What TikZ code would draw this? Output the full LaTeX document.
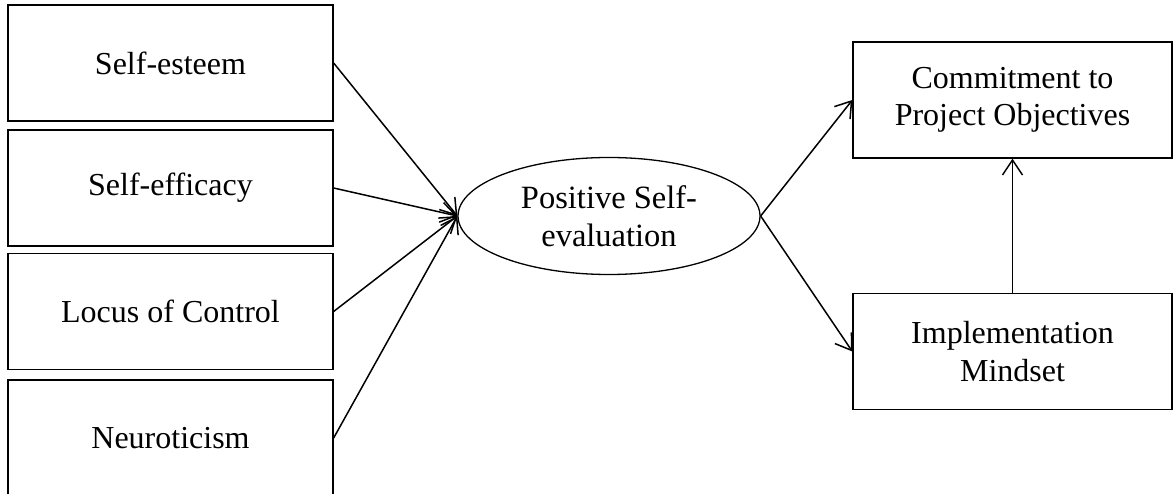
\documentclass[tikz,border=0pt]{standalone}
\usepackage{fontspec}
\setmainfont{Liberation Serif}
\usetikzlibrary{arrows.meta,shapes.geometric}
\begin{document}
\begin{tikzpicture}[x=1pt,y=-1pt,
    factor/.style={draw, line width=1.3pt, minimum width=325pt, minimum height=116pt,
      inner sep=0pt, align=center, font=\fontsize{32}{37.5}\selectfont},
    outcome/.style={factor, minimum width=319pt},
    core/.style={draw, ellipse, line width=1.3pt, minimum width=302pt, minimum height=117pt,
      inner sep=0pt, align=center, font=\fontsize{32.5}{37.5}\selectfont},
    link/.style={line width=1.5pt, -{Straight Barb[length=15pt,width=20pt]}}]
        \useasboundingbox (0,0) rectangle (1173,494);
        %%Traits
        \node[factor] (esteem) at (170.5,63) {Self-esteem};
        \node[factor] (efficacy) at (170.5,188) {Self-efficacy};
        \node[factor] (locus) at (170.5,311.5) {Locus of Control};
        \node[factor] (neuro) at (170.5,438) {Neuroticism};
        %%Core evaluation
        \node[core] (pse) at (609,216) {Positive Self-\\evaluation};
        %%Outcomes
        \node[outcome] (commit) at (1012.5,100) {Commitment to\\Project Objectives};
        \node[outcome] (mindset) at (1012.5,351.5) {Implementation\\Mindset};
        %%Links
        \draw[link] (esteem.east) -- (pse.west);
        \draw[link] (efficacy.east) -- (pse.west);
        \draw[link] (locus.east) -- (pse.west);
        \draw[link] (neuro.east) -- (pse.west);
        \draw[link] (pse.east) -- (commit.west);
        \draw[link] (pse.east) -- (mindset.west);
        \draw[link] (mindset.north) -- (commit.south);
    \end{tikzpicture}
\end{document}
